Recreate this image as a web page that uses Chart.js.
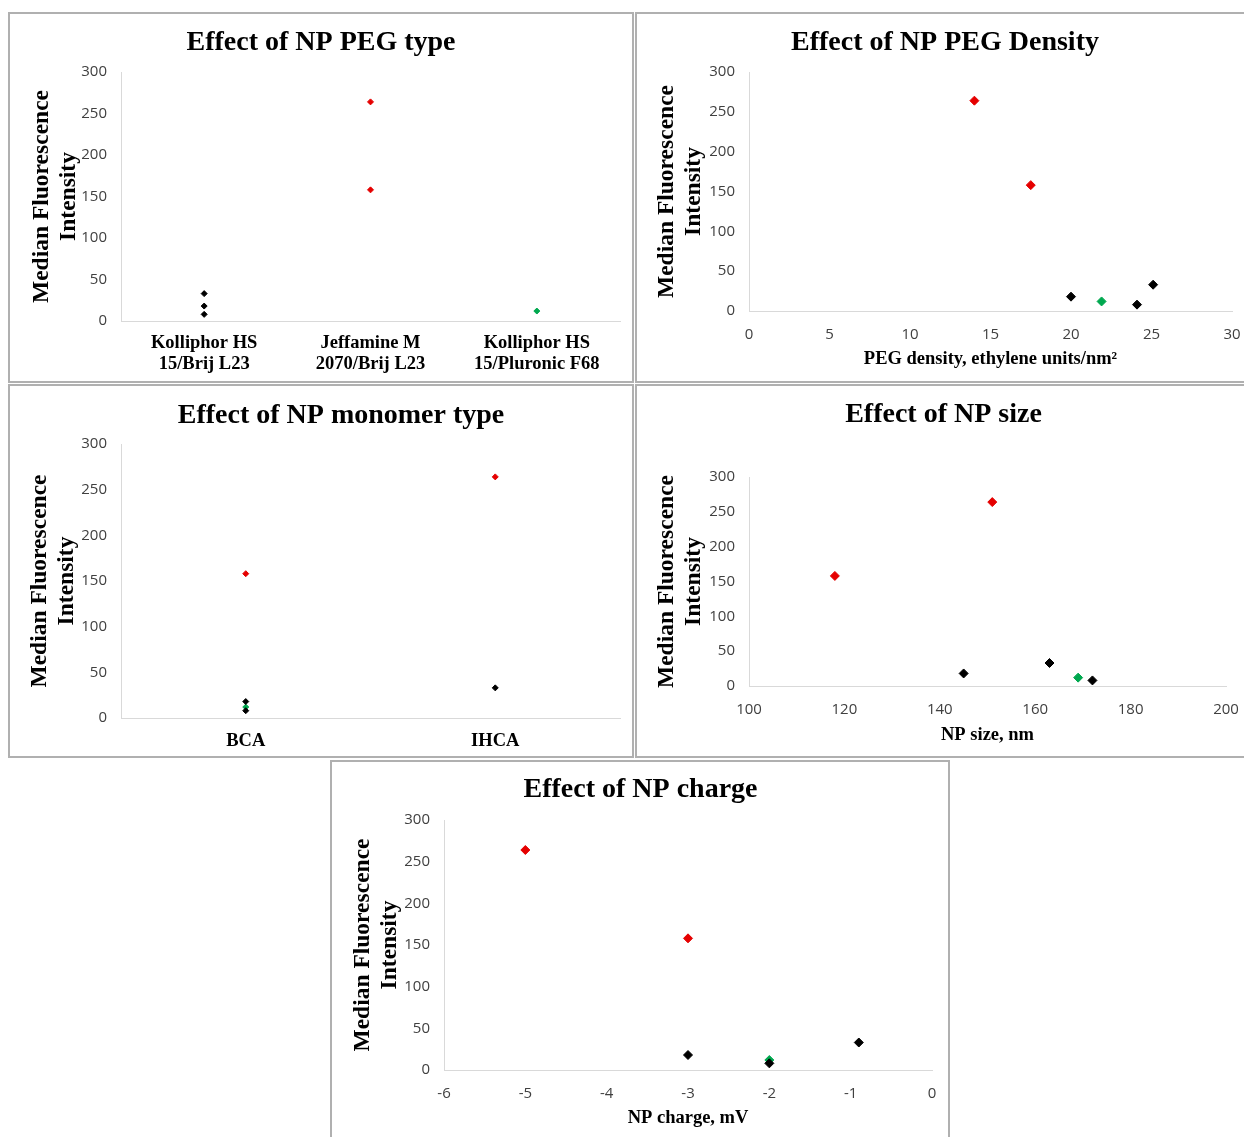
<!DOCTYPE html>
<html>
<head>
<meta charset="utf-8">
<script src="https://cdn.jsdelivr.net/npm/chart.js@4.4.1/dist/chart.umd.min.js"></script>
<style>
  html, body { margin: 0; padding: 0; background: #fff; }
  body { width: 1244px; height: 1137px; position: relative; overflow: hidden; }
  .panel { position: absolute; box-sizing: border-box; border: 2px solid #b0b0b0; background: #fff; overflow: hidden; }
  .panel canvas { position: absolute; left: 0; top: 0; }
</style>
</head>
<body>
<div class="panel" style="left:8px;top:12px;width:626px;height:371px"><canvas id="c1" width="622" height="367"></canvas></div>
<div class="panel" style="left:635px;top:12px;width:612px;height:371px"><canvas id="c2" width="619" height="367"></canvas></div>
<div class="panel" style="left:8px;top:384px;width:626px;height:374px"><canvas id="c3" width="622" height="370"></canvas></div>
<div class="panel" style="left:635px;top:384px;width:612px;height:374px"><canvas id="c4" width="618" height="370"></canvas></div>
<div class="panel" style="left:330px;top:760px;width:620px;height:380px"><canvas id="c5" width="620" height="376"></canvas></div>
<script>
/* ─── Median fluorescence intensity per nanoparticle group ─── */
const redMFI = [264, 158];
const blackMFI = [18, 8, 33];
const greenMFI = [12];

/* ─── PEG type (categories) ─── */
const pegCategories = ['Kolliphor HS 15/Brij L23', 'Jeffamine M 2070/Brij L23', 'Kolliphor HS 15/Pluronic F68'];
const pegTickLabels = [['Kolliphor HS', '15/Brij L23'], ['Jeffamine M', '2070/Brij L23'], ['Kolliphor HS', '15/Pluronic F68']];
const redPeg = [pegCategories[1], pegCategories[1]];
const blackPeg = [pegCategories[0], pegCategories[0], pegCategories[0]];
const greenPeg = [pegCategories[2]];

/* ─── PEG density, ethylene units/nm² ─── */
const redDensity = [14, 17.5];
const blackDensity = [20, 24.1, 25.1];
const greenDensity = [21.9];

/* ─── Monomer type (categories) ─── */
const monomerCategories = ['BCA', 'IHCA'];
const redMonomer = ['IHCA', 'BCA'];
const blackMonomer = ['BCA', 'BCA', 'IHCA'];
const greenMonomer = ['BCA'];

/* ─── NP size, nm ─── */
const redSize = [151, 118];
const blackSize = [145, 172, 163];
const greenSize = [169];

/* ─── NP charge, mV ─── */
const redCharge = [-5, -3];
const blackCharge = [-3, -2, -0.9];
const greenCharge = [-2];

const yTicks = { min: 0, max: 300, step: 50 };

const SERIF = "'Liberation Serif', 'Times New Roman', serif";
const SANS = "'Open Sans', 'Liberation Sans', sans-serif";
const RED = '#e50000', BLACK = '#000000', GREEN = '#00a84f';

function pts(xs, ys) {
    return xs.map(function (x, i) { return { x: x, y: ys[i] }; });
}

function series(xs, ys, color, r) {
    return {
        data: pts(xs, ys),
        pointStyle: 'rectRot',
        pointRadius: r,
        pointHoverRadius: r,
        backgroundColor: color,
        borderColor: color,
        borderWidth: 1
    };
}

function makeChart(id, cfg) {
    const r = cfg.radius;
    const xScale = {
        border: { display: true, color: '#d9d9d9', width: 1 },
        grid: { display: false, drawTicks: false },
        afterFit: function (s) { s.height = cfg.xHeight; }
    };
    if (cfg.categories) {
        xScale.type = 'category';
        xScale.labels = cfg.categories;
        xScale.offset = true;
        xScale.ticks = {
            color: '#000',
            padding: cfg.xTickPad,
            maxRotation: 0,
            autoSkip: false,
            font: { family: SERIF, size: 18.5, weight: 'bold', lineHeight: 1.15 },
            callback: function (v, i) { return cfg.tickLabels ? cfg.tickLabels[i] : cfg.categories[i]; }
        };
    } else {
        xScale.type = 'linear';
        xScale.min = cfg.xMin;
        xScale.max = cfg.xMax;
        xScale.ticks = {
            stepSize: cfg.xStep,
            color: '#404040',
            padding: 15,
            maxRotation: 0,
            font: { family: SANS, size: 15 }
        };
        xScale.title = {
            display: true,
            text: cfg.xTitle,
            color: '#000',
            font: { family: SERIF, size: 18.5, weight: 'bold', lineHeight: 1.2 },
            padding: { top: 0, bottom: cfg.xTitlePad }
        };
    }

    return new Chart(document.getElementById(id), {
        type: 'scatter',
        data: {
            datasets: [
                series(cfg.black, blackMFI, BLACK, r),
                series(cfg.red, redMFI, RED, r),
                series(cfg.green, greenMFI, GREEN, r)
            ]
        },
        options: {
            responsive: false,
            animation: false,
            events: [],
            layout: { padding: { left: cfg.padLeft, top: 0, bottom: 0, right: cfg.padRight } },
            plugins: {
                legend: { display: false },
                tooltip: { enabled: false },
                title: {
                    display: true,
                    text: cfg.title,
                    color: '#000',
                    font: { family: SERIF, size: 28, weight: 'bold', lineHeight: 1.2 },
                    padding: { top: cfg.titlePad[0], bottom: cfg.titlePad[1] }
                }
            },
            scales: {
                x: xScale,
                y: {
                    min: yTicks.min,
                    max: yTicks.max,
                    border: { display: true, color: '#d9d9d9', width: 1 },
                    grid: { display: false, drawTicks: false },
                    ticks: {
                        stepSize: yTicks.step,
                        color: '#404040',
                        padding: 14,
                        font: { family: SANS, size: 15 }
                    },
                    title: {
                        display: true,
                        text: ['Median Fluorescence', 'Intensity'],
                        color: '#000',
                        font: { family: SERIF, size: 23.5, weight: 'bold', lineHeight: 1.15 },
                        padding: { top: cfg.yTitlePad, bottom: 0 }
                    },
                    afterFit: function (s) { s.width = cfg.yWidth; }
                }
            }
        }
    });
}

makeChart('c1', {
    title: 'Effect of NP PEG type', radius: 3,
    categories: pegCategories, tickLabels: pegTickLabels, xTickPad: 11.4,
    black: blackPeg, red: redPeg, green: greenPeg,
    padLeft: 12, yWidth: 99, padRight: 12, xHeight: 60, titlePad: [11.7, 12.7], yTitlePad: 6
});

makeChart('c2', {
    title: 'Effect of NP PEG Density', radius: 4.5,
    xMin: 0, xMax: 30, xStep: 5,
    xTitle: 'PEG density, ethylene units/nm\u00b2', xTitlePad: 10.9,
    black: blackDensity, red: redDensity, green: greenDensity,
    padLeft: 21, yWidth: 91, padRight: 24, xHeight: 70, titlePad: [11.7, 12.7], yTitlePad: -4.5
});

makeChart('c3', {
    title: 'Effect of NP monomer type', radius: 3,
    categories: monomerCategories, xTickPad: 12.4,
    black: blackMonomer, red: redMonomer, green: greenMonomer,
    padLeft: 52, yWidth: 59, padRight: 12, xHeight: 38, titlePad: [12.7, 11.7], yTitlePad: -35.5
});

makeChart('c4', {
    title: 'Effect of NP size', radius: 4.5,
    xMin: 100, xMax: 200, xStep: 20,
    xTitle: 'NP size, nm', xTitlePad: 9.9,
    black: blackSize, red: redSize, green: greenSize,
    padLeft: 24, yWidth: 88, padRight: 29, xHeight: 70, titlePad: [11.7, 45.7], yTitlePad: -7.5
});

makeChart('c5', {
    title: 'Effect of NP charge', radius: 4.5,
    xMin: -6, xMax: 0, xStep: 1,
    xTitle: 'NP charge, mV', xTitlePad: 8.9,
    black: blackCharge, red: redCharge, green: greenCharge,
    padLeft: 17, yWidth: 95, padRight: 20, xHeight: 68, titlePad: [10.7, 13.7], yTitlePad: 0
});
</script>
</body>
</html>
